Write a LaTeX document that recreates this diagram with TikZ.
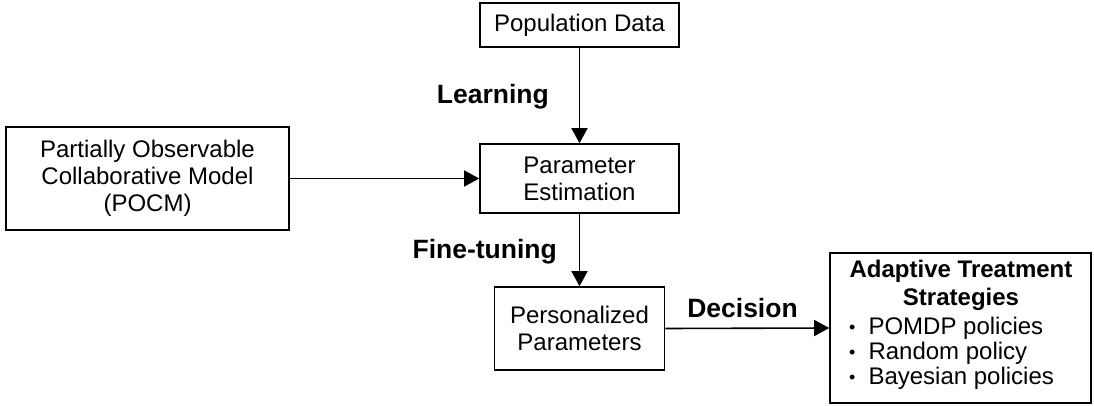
\documentclass[tikz,border=0pt]{standalone}
\usepackage{fontspec}
\setmainfont{Liberation Sans}
\usetikzlibrary{arrows.meta}
\newcommand{\smallbul}{\raisebox{1pt}{\scalebox{0.75}{•}}\hspace{13pt}}
\begin{document}
\begin{tikzpicture}[x=1pt,y=-1pt,
  box/.style={draw=black,line width=1.6pt,fill=white,rectangle,align=center,
    inner sep=0pt,font=\fontsize{24}{27}\selectfont},
  lbl/.style={font=\fontsize{26.5}{30}\selectfont\bfseries,inner sep=0pt},
  txt/.style={font=\fontsize{24}{27}\selectfont,inner sep=0pt},
  flow/.style={line width=1.6pt,-{Triangle[length=15pt,width=16pt]}}]
\useasboundingbox (0,0) rectangle (1094,406);

% boxes
\node[box,minimum width=199pt,minimum height=44pt] (pop) at (579.5,25) {Population Data};
\node[box,minimum width=199pt,minimum height=69pt] (par) at (579.5,178.5) {Parameter\\Estimation};
\node[box,minimum width=283pt,minimum height=103pt] (pocm) at (147.5,178.5)
  {Partially Observable\\Collaborative Model\\(POCM)};
\node[box,minimum width=170pt,minimum height=83pt] (pers) at (579.5,328.5) {Personalized\\Parameters};
\node[box,minimum width=261pt,minimum height=150pt] (ats) at (960.5,328) {};

% strategies listed in the right box
\node[txt,font=\fontsize{24}{28}\selectfont\bfseries,align=center] (atsh) at (961,285)
  {Adaptive Treatment\\Strategies};
\node[txt,anchor=west] (b1) at (849,328) {\smallbul POMDP policies};
\node[txt,anchor=west] (b2) at (849,353) {\smallbul Random policy};
\node[txt,anchor=west] (b3) at (849,378) {\smallbul Bayesian policies};

% stage labels
\node[lbl,anchor=east] (learn) at (549,97) {Learning};
\node[lbl,anchor=east] (fine) at (557,252) {Fine-tuning};
\node[lbl] (dec) at (742.5,308) {Decision};

% connectors
\draw[flow] (pop.south) -- (par.north);
\draw[flow] (pocm.east) -- (par.west);
\draw[flow] (par.south) -- (pers.north);
\draw[flow] (pers.east) -- (ats.west);
\end{tikzpicture}
\end{document}
